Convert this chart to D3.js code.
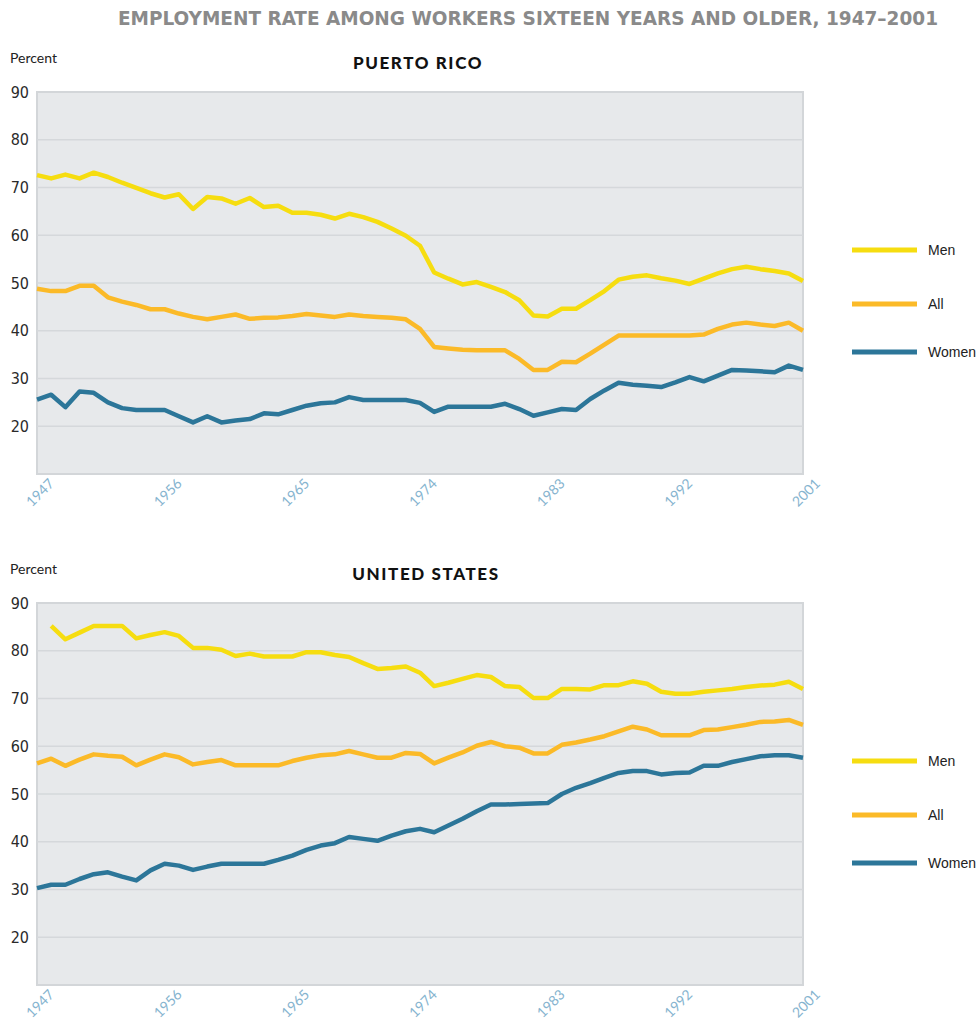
<!DOCTYPE html>
<html lang="en">
<head>
    <meta content="text/html; charset=utf-8" http-equiv="content-type"/>
    <title>Employment rate, 1947-2001</title>
    <script src="https://d3js.org/d3.v7.min.js"></script>
    <style>
        body { margin: 0; background: #fff; }
        text { font-family: "Lato", "Open Sans", sans-serif; }
    </style>
</head>
<body>
<div id="my_dataviz"></div>

<script>

// years on the x axis
var years = d3.range(1947, 2002);
var tickYears = [1947, 1956, 1965, 1974, 1983, 1992, 2001];
var yTicks = [20, 30, 40, 50, 60, 70, 80, 90];
var seriesNames = ["Men", "All", "Women"];

// Puerto Rico
var prMen = [72.6, 71.9, 72.7, 71.9, 73.1, 72.2, 71.0, 69.9, 68.8, 67.9,
             68.6, 65.5, 68.0, 67.7, 66.6, 67.8, 65.9, 66.2, 64.7, 64.7,
             64.3, 63.5, 64.5, 63.8, 62.8, 61.4, 59.9, 57.8, 52.2, 50.9,
             49.7, 50.2, 49.2, 48.1, 46.4, 43.2, 43.0, 44.6, 44.6, 46.4,
             48.3, 50.7, 51.3, 51.6, 51.0, 50.5, 49.8, 50.9, 52.0, 52.9,
             53.4, 52.9, 52.5, 52.0, 50.4];
var prAll = [48.8, 48.3, 48.3, 49.4, 49.4, 47.0, 46.1, 45.4, 44.5, 44.5,
             43.6, 42.9, 42.4, 42.9, 43.4, 42.5, 42.7, 42.8, 43.1, 43.5,
             43.2, 42.9, 43.4, 43.1, 42.9, 42.7, 42.4, 40.4, 36.6, 36.3,
             36.0, 35.9, 35.9, 35.9, 34.1, 31.8, 31.8, 33.5, 33.4, 35.2,
             37.1, 39.0, 39.0, 39.0, 39.0, 39.0, 39.0, 39.2, 40.4, 41.3,
             41.7, 41.3, 41.0, 41.7, 40.0];
var prWomen = [25.6, 26.6, 24.0, 27.3, 27.0, 25.0, 23.8, 23.4, 23.4, 23.4,
               22.1, 20.8, 22.1, 20.8, 21.2, 21.5, 22.7, 22.5, 23.4, 24.3,
               24.8, 25.0, 26.1, 25.5, 25.5, 25.5, 25.5, 24.9, 23.0, 24.1,
               24.1, 24.1, 24.1, 24.7, 23.6, 22.2, 22.9, 23.6, 23.4, 25.7,
               27.5, 29.1, 28.7, 28.5, 28.2, 29.2, 30.3, 29.4, 30.6, 31.8,
               31.7, 31.5, 31.3, 32.7, 31.8];

// United States (men series starts in 1948)
var usMen = [null, 85.2, 82.4, 83.8, 85.2, 85.2, 85.2, 82.6, 83.3, 83.9,
             83.1, 80.6, 80.6, 80.2, 78.9, 79.4, 78.8, 78.8, 78.8, 79.7,
             79.7, 79.1, 78.7, 77.4, 76.2, 76.4, 76.7, 75.4, 72.6, 73.3,
             74.1, 74.9, 74.5, 72.6, 72.4, 70.1, 70.1, 72.0, 72.0, 71.9,
             72.8, 72.8, 73.6, 73.1, 71.4, 71.0, 71.0, 71.4, 71.7, 72.0,
             72.4, 72.7, 72.9, 73.5, 72.0];
var usAll = [56.4, 57.4, 55.9, 57.2, 58.3, 58.0, 57.8, 56.0, 57.2, 58.3,
             57.7, 56.2, 56.7, 57.1, 56.0, 56.0, 56.0, 56.0, 56.9, 57.6,
             58.1, 58.3, 59.0, 58.3, 57.6, 57.6, 58.6, 58.4, 56.4, 57.6,
             58.7, 60.1, 60.9, 60.0, 59.7, 58.5, 58.5, 60.3, 60.8, 61.4,
             62.1, 63.1, 64.1, 63.5, 62.3, 62.3, 62.3, 63.4, 63.5, 64.0,
             64.5, 65.1, 65.2, 65.5, 64.5];
var usWomen = [30.3, 31.0, 31.0, 32.2, 33.2, 33.6, 32.7, 31.9, 34.0, 35.4,
               35.0, 34.1, 34.8, 35.4, 35.4, 35.4, 35.4, 36.2, 37.1, 38.3,
               39.2, 39.7, 41.0, 40.6, 40.2, 41.3, 42.2, 42.7, 42.0, 43.4,
               44.8, 46.4, 47.8, 47.8, 47.9, 48.0, 48.1, 50.0, 51.3, 52.3,
               53.4, 54.4, 54.8, 54.8, 54.1, 54.4, 54.5, 55.9, 55.9, 56.7,
               57.3, 57.9, 58.1, 58.1, 57.6];

var colors = {Men: "#f6dd10", All: "#fbba28", Women: "#2c7699"};

var W = 980, H = 1024;
var svg = d3.select("#my_dataviz")
  .append("svg")
    .attr("width", W)
    .attr("height", H);

// main title
svg.append("text")
    .attr("x", 528)
    .attr("y", 25)
    .attr("text-anchor", "middle")
    .attr("textLength", 820)
    .attr("lengthAdjust", "spacingAndGlyphs")
    .style("font-family", "'DejaVu Sans Condensed', 'DejaVu Sans', sans-serif")
    .style("font-weight", "bold")
    .style("font-size", "20px")
    .attr("fill", "#8a8a8a")
    .text("EMPLOYMENT RATE AMONG WORKERS SIXTEEN YEARS AND OLDER, 1947\u20132001");

var x = d3.scaleLinear().domain([1947, 2001]).range([37, 803]);

function drawPanel(top, title, titleX, data) {
  var y = d3.scaleLinear().domain([10, 90]).range([top + 382, top]);
  var g = svg.append("g");

  g.append("text")
      .attr("x", 10).attr("y", top - 29)
      .style("font-size", "14px").attr("fill", "#222")
      .text("Percent");

  g.append("text")
      .attr("x", titleX).attr("y", top - 23)
      .attr("text-anchor", "middle")
      .style("font-size", "17px").style("font-weight", "900")
      .style("letter-spacing", "1.6px")
      .attr("fill", "#111")
      .text(title);

  // plot background
  g.append("rect")
      .attr("x", x(1947)).attr("y", y(90))
      .attr("width", x(2001) - x(1947)).attr("height", y(10) - y(90))
      .attr("fill", "#e7e9eb")
      .attr("stroke", "#d3d6d9").attr("stroke-width", 2);

  // gridlines
  g.selectAll(".grid")
    .data(yTicks.slice(0, -1))
    .enter().append("line")
      .attr("x1", x(1947)).attr("x2", x(2001))
      .attr("y1", function(d) { return y(d); })
      .attr("y2", function(d) { return y(d); })
      .attr("stroke", "#d5d8db").attr("stroke-width", 1.5);

  // y axis labels
  var ya = g.append("g")
      .attr("transform", "translate(" + x(1947) + ",0)")
      .call(d3.axisLeft(y).tickValues(yTicks).tickSize(0).tickPadding(8));
  ya.select(".domain").remove();
  ya.selectAll("text")
      .style("font-size", "16px")
      .style("font-family", "'DejaVu Sans Condensed', 'Lato', sans-serif")
      .attr("fill", "#2a2a2a");

  // x axis labels
  var xa = g.append("g")
      .attr("transform", "translate(0," + y(10) + ")")
      .call(d3.axisBottom(x).tickValues(tickYears).tickFormat(d3.format("d")).tickSize(0));
  xa.select(".domain").remove();
  xa.selectAll("text")
      .attr("y", 0).attr("dy", 0)
      .attr("transform", "translate(6,22)rotate(-45)")
      .style("text-anchor", "middle")
      .style("font-size", "14px")
      .attr("fill", "#86b4cf");

  // lines
  var line = d3.line()
      .defined(function(d) { return d.v != null; })
      .x(function(d) { return x(d.year); })
      .y(function(d) { return y(d.v); });

  seriesNames.forEach(function(name) {
    var pts = years.map(function(yr, i) { return {year: yr, v: data[name][i]}; });
    g.append("path")
      .datum(pts)
      .attr("fill", "none")
      .attr("stroke", colors[name])
      .attr("stroke-width", 4.5)
      .attr("stroke-linejoin", "round")
      .attr("d", line);
  });

  // legend
  var legY = [top + 158, top + 212, top + 260];
  seriesNames.forEach(function(name, i) {
    g.append("line")
      .attr("x1", 852).attr("x2", 917)
      .attr("y1", legY[i]).attr("y2", legY[i])
      .attr("stroke", colors[name]).attr("stroke-width", 5);
    g.append("text")
      .attr("x", 928).attr("y", legY[i] + 5)
      .style("font-size", "14px")
      .style("font-family", "'Liberation Sans', Arial, sans-serif")
      .attr("fill", "#222")
      .text(name);
  });
}

drawPanel(92, "PUERTO RICO", 418, {Men: prMen, All: prAll, Women: prWomen});
drawPanel(603, "UNITED STATES", 426, {Men: usMen, All: usAll, Women: usWomen});

</script>
</body>
</html>
